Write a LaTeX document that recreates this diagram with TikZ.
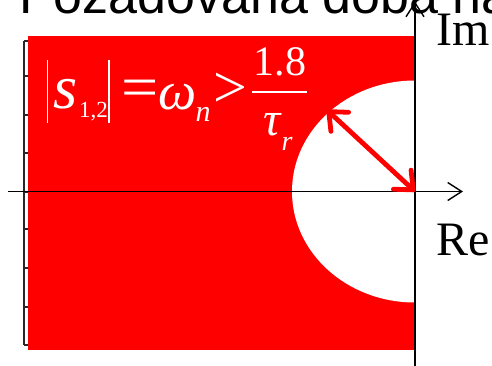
\documentclass[tikz,border=0pt]{standalone}
\usepackage{fontspec}
\usepackage{graphicx}
\setmainfont{Liberation Serif}
\newfontfamily\arialfont{Liberation Sans}
\usetikzlibrary{arrows.meta}
\definecolor{pred}{RGB}{255,0,0}
\definecolor{axgray}{RGB}{40,40,40}
\begin{document}
\begin{tikzpicture}[x=1pt,y=-1pt,
  axisline/.style={line width=1.4pt, black},
  axtip/.style={-{Straight Barb[length=14pt,width=18pt,line width=1.4pt]}},
  fw/.style={text=white, inner sep=0pt, outer sep=0pt},
  lbl/.style={inner sep=0pt, outer sep=0pt, font=\fontsize{48}{48}\selectfont},
  redarrow/.style={pred, line width=4.8pt, line cap=round,
    {Straight Barb[length=15pt,width=26pt,line cap=round,line join=round]}-{Straight Barb[length=15pt,width=26pt,line cap=round,line join=round]}},
]
\useasboundingbox (0,0) rectangle (492,365);
\clip (0,0) rectangle (492,365);
% title (clipped at the top)
\node[anchor=base west, inner sep=0pt, font=\arialfont\fontsize{52}{52}\selectfont] (title) at (19,13) {Požadovaná doba ná};
% left axis with ticks
\coordinate (laT) at (24,41);
\coordinate (laB) at (24,345);
\draw[axgray, line width=1.5pt] (laT) -- (laB);
\foreach \ty in {41,76,115,153,192,229,268,307,345}
  \draw[axgray, line width=1.2pt] (24,\ty) -- (28,\ty);
% red region with white disc
\fill[pred] (28,36) rectangle (415,350);
\begin{scope}
  \clip (28,36) rectangle (415,350);
  \fill[white] (415,191.5) ellipse [x radius=123pt, y radius=111pt];
\end{scope}
% axes
\coordinate (O) at (415,191.5);
\coordinate (reL) at (8,191.5);
\coordinate (reR) at (463,191.5);
\coordinate (imB) at (415,367);
\coordinate (imT) at (415,1.5);
\draw[axisline, axtip] (reL) -- (reR);
\draw[axisline, axtip] (imB) -- (imT);
% radius arrow
\coordinate (P) at (327,110);
\draw[redarrow] (P) -- (O);
% axis labels
\node[lbl, anchor=base west] (im) at (436.5,45) {Im};
\node[lbl, anchor=base west] (re) at (436,255) {Re};
% formula
\coordinate (b1T) at (47.5,60); \coordinate (b1B) at (47.5,123);
\coordinate (b2T) at (109,60); \coordinate (b2B) at (109,123);
\draw[white, line width=1.5pt] (b1T) -- (b1B);
\draw[white, line width=1.5pt] (b2T) -- (b2B);
\node[fw, anchor=base, font=\fontsize{62}{62}\selectfont\itshape] (s) at (66,108) {s};
\node[fw, anchor=base west, font=\fontsize{23}{23}\selectfont] (sub) at (79,117) {1,2};
\node[fw, anchor=center, font=\fontsize{60}{60}\selectfont] (eq) at (140,94) {\scalebox{1.1}[1]{=}};
\node[fw, anchor=base, font=\fontsize{54}{54}\selectfont\itshape] (om) at (178,109) {ω};
\node[fw, anchor=base, font=\fontsize{30}{30}\selectfont\itshape] (n) at (203,121) {n};
\node[fw, anchor=center, font=\fontsize{60}{60}\selectfont] (gt) at (230,90) {>};
\coordinate (fbL) at (252,92); \coordinate (fbR) at (307,92);
\draw[white, line width=2pt] (fbL) -- (fbR);
\node[fw, anchor=base, font=\fontsize{42}{42}\selectfont] (num) at (280,75) {1.8};
\node[fw, anchor=base, font=\fontsize{48}{48}\selectfont\itshape] (tau) at (272,135) {τ};
\node[fw, anchor=base, font=\fontsize{28}{28}\selectfont\itshape] (r) at (287,150) {r};
\end{tikzpicture}
\end{document}
